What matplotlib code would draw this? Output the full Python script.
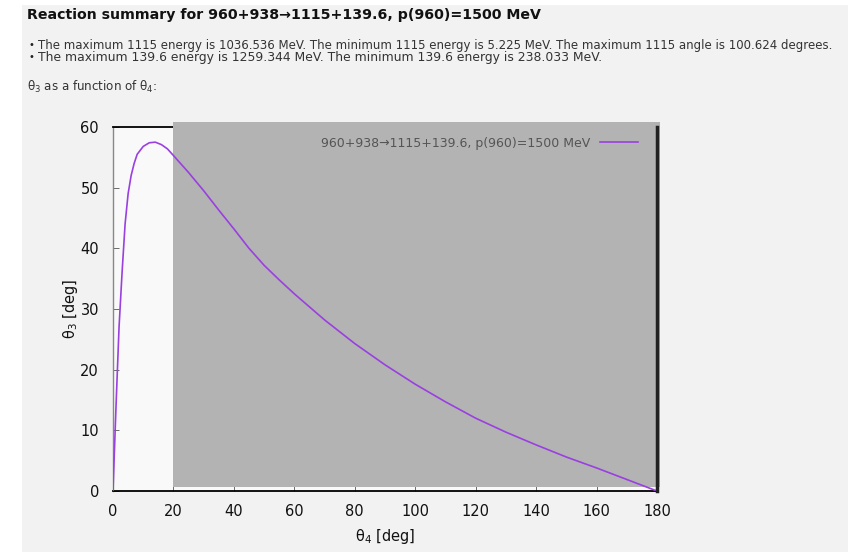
import matplotlib
matplotlib.use("Agg")
import matplotlib.pyplot as plt
from matplotlib.patches import Rectangle

# data
theta4 = [0, 1, 2, 3, 4, 5, 6, 7, 8, 10, 12, 14, 16, 18, 20, 25, 30, 35, 40, 45,
          50, 55, 60, 70, 80, 90, 100, 110, 120, 130, 140, 150, 160, 170, 180]
theta3 = [0, 14, 27, 36, 44, 49, 52, 54, 55.5, 56.8, 57.4, 57.5, 57.1, 56.4, 55.3,
          52.5, 49.5, 46.3, 43.2, 40.0, 37.2, 34.8, 32.5, 28.2, 24.3, 20.8, 17.6,
          14.7, 12.0, 9.7, 7.6, 5.6, 3.8, 1.9, 0]
xticks = [0, 20, 40, 60, 80, 100, 120, 140, 160, 180]
yticks = [0, 10, 20, 30, 40, 50, 60]
shade_x = (20, 181)
shade_y = (0.6, 60.8)

title = "Reaction summary for 960+938\u21921115+139.6, p(960)=1500 MeV"
bullet1 = ("The maximum 1115 energy is 1036.536 MeV. The minimum 1115 energy is 5.225 MeV. "
           "The maximum 1115 angle is 100.624 degrees.")
bullet2 = "The maximum 139.6 energy is 1259.344 MeV. The minimum 139.6 energy is 238.033 MeV."
subhead = "\u03b8$_3$ as a function of \u03b8$_4$:"
legend_label = "960+938\u21921115+139.6, p(960)=1500 MeV"

W, H = 848, 552
fig = plt.figure(figsize=(W / 100, H / 100), dpi=100)
fig.patch.set_facecolor("#f2f2f2")
# white margins of the page
fig.patches.append(Rectangle((0, 0), 22 / W, 1, transform=fig.transFigure,
                             facecolor="white", edgecolor="none", zorder=0))
fig.patches.append(Rectangle((0, 1 - 5 / H), 1, 5 / H, transform=fig.transFigure,
                             facecolor="white", edgecolor="none", zorder=0))

fig.text(27 / W, 1 - 15 / H, title, fontsize=10.2, fontweight="bold", va="center",
         color="#111111")
fig.text(29 / W, 1 - 45 / H, "\u2022", fontsize=7, va="center", color="#222222")
fig.text(38 / W, 1 - 45 / H, bullet1, fontsize=8.5, va="center", color="#333333")
fig.text(29 / W, 1 - 57 / H, "\u2022", fontsize=7, va="center", color="#222222")
fig.text(38 / W, 1 - 57 / H, bullet2, fontsize=8.9, va="center", color="#333333")
fig.text(27 / W, 1 - 87 / H, subhead, fontsize=8.6, va="center", color="#333333")

left, right, top, bottom = 113 / W, 657 / W, 1 - 127 / H, 1 - 491 / H
ax = fig.add_axes([left, bottom, right - left, top - bottom])
ax.set_facecolor("#f9f9f9")
ax.set_xlim(0, 180)
ax.set_ylim(0, 60)

ax.add_patch(Rectangle((shade_x[0], shade_y[0]), shade_x[1] - shade_x[0],
                       shade_y[1] - shade_y[0], facecolor="#b3b3b3",
                       edgecolor="none", clip_on=False, zorder=2.6))

line, = ax.plot(theta4, theta3, color="#9a3fe0", lw=1.2, zorder=3,
                label=legend_label)

ax.set_xticks(xticks)
ax.set_yticks(yticks)
ax.tick_params(direction="in", top=True, right=True, length=4, width=0.6,
               labelsize=10.5, colors="#555555")
ax.tick_params(axis="x", labelcolor="#111111", pad=9)
ax.tick_params(axis="y", labelcolor="#111111", pad=10)
ax.spines["left"].set_color("#888888")
ax.spines["left"].set_linewidth(1.0)
ax.spines["bottom"].set_color("black")
ax.spines["bottom"].set_linewidth(1.3)
ax.spines["top"].set_color("black")
ax.spines["top"].set_linewidth(1.3)
ax.spines["right"].set_color("#222222")
ax.spines["right"].set_linewidth(2.5)
ax.spines["right"].set_zorder(4)

ax.set_xlabel("\u03b8$_4$ [deg]", fontsize=10.5, color="#111111", labelpad=6)
ax.set_ylabel("\u03b8$_3$ [deg]", fontsize=10.5, color="#111111", labelpad=0)

leg = ax.legend(loc="upper right", frameon=False, fontsize=9, markerfirst=False,
                handlelength=3.0, bbox_to_anchor=(0.985, 1.004), labelcolor="#555555")
leg.set_zorder(5)

fig.savefig("out.png", dpi=100, facecolor=fig.get_facecolor())
